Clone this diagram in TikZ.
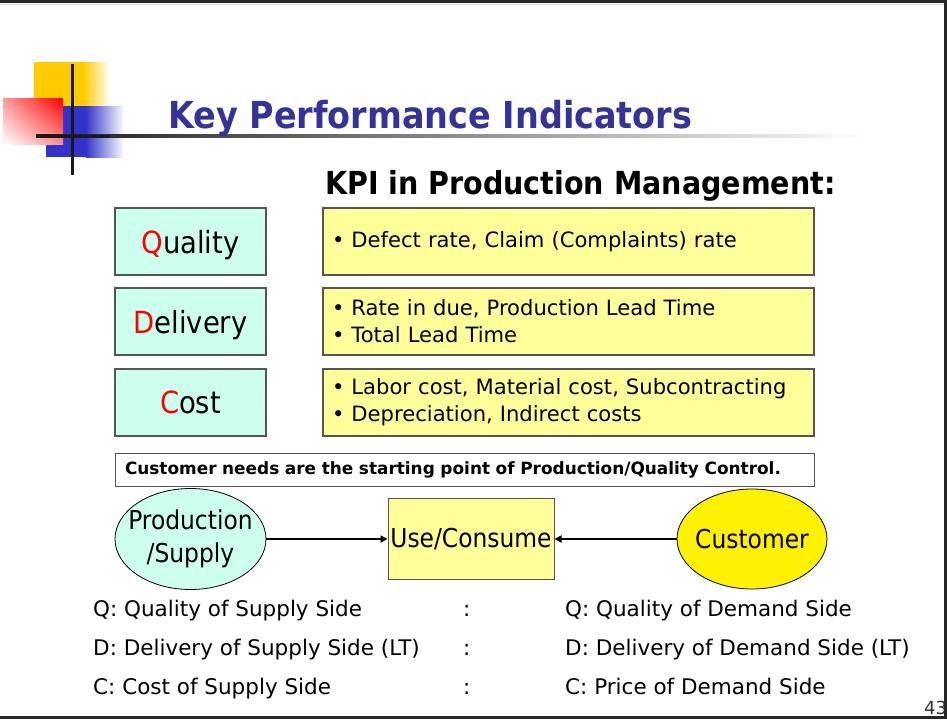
\documentclass[tikz,border=0pt]{standalone}
\usepackage{fontspec}
\setmainfont{DejaVu Sans}
\newfontfamily\cond{DejaVu Sans Condensed}[BoldFont={DejaVu Sans Condensed Bold}]
\usetikzlibrary{shapes.geometric,arrows.meta,shadings}
\definecolor{titleblue}{HTML}{333399}
\definecolor{mint}{HTML}{CCFFEE}
\definecolor{paleyellow}{HTML}{FFFF99}
\definecolor{boxborder}{HTML}{555555}
\definecolor{logoyellow}{HTML}{FFCC00}
\definecolor{logoblue}{HTML}{3333CC}
\definecolor{qred}{HTML}{FF0000}
\begin{document}
\begin{tikzpicture}[x=1pt,y=-1pt,
  kpibox/.style={draw=boxborder, line width=1.2pt, fill=mint, minimum width=151pt, minimum height=67pt, inner sep=0pt, text depth=0pt, font=\cond\fontsize{30.5}{36}\selectfont},
  itembox/.style={draw=boxborder, line width=1.2pt, fill=paleyellow, minimum width=491pt, minimum height=67pt, text width=473pt, align=left, inner xsep=9pt, inner ysep=0pt, font=\fontsize{21.1}{27}\selectfont},
  bubble/.style={ellipse, draw=black, line width=0.8pt, inner sep=0pt, minimum width=151pt, minimum height=101pt},
  bigtext/.style={inner sep=0pt, align=center, font=\cond\fontsize{26}{33}\selectfont},
  rowtext/.style={anchor=base west, inner sep=0pt, font=\fontsize{21.5}{25}\selectfont},
  flow/.style={line width=1.8pt, -{Triangle[length=7pt,width=7pt]}}
]
\useasboundingbox (0,0) rectangle (947,720);
% frame
\draw[black!15, line width=1pt] (0,4.5) -- (944,4.5);
\draw[black!85, line width=2.6pt] (0,1.5) -- (945.7,1.5) -- (945.7,717.5) -- (0,717.5);
% logo
\fill[logoyellow] (34,62) rectangle (84,107);
\shade[left color=logoyellow, right color=white] (83.5,62) rectangle (110,107);
\fill[logoblue] (46,106) rectangle (86,157);
\shade[left color=logoblue, right color=white] (85.5,106) rectangle (124,157);
\shade[upper left=red!40, upper right=red, lower left=white, lower right=red!45] (3,98) rectangle (63,144);
\shade[left color=black!90, right color=white] (36,134.5) rectangle (870,137.5);
\fill[black!90] (36,134.5) rectangle (110,137.5);
\fill[black!90] (70.5,64) rectangle (73.5,175);
% title
\node[anchor=base west, inner sep=0pt, text=titleblue, font=\cond\fontsize{37.2}{42}\selectfont\bfseries] (title) at (168,128) {Key Performance Indicators};
\node[anchor=base west, inner sep=0pt, font=\cond\fontsize{31.7}{38}\selectfont\bfseries] (sub) at (325,194) {KPI in Production Management:};
% KPI boxes
\node[kpibox] (q) at (190.5,241.5) {\textcolor{qred}{Q}uality};
\node[kpibox] (d) at (190.5,321.5) {\textcolor{qred}{D}elivery};
\node[kpibox] (c) at (190.5,402.5) {\textcolor{qred}{C}ost};
\node[itembox] (qi) at (568.5,241.5) {• Defect rate, Claim (Complaints) rate};
\node[itembox] (di) at (568.5,321.5) {• Rate in due, Production Lead Time\\• Total Lead Time};
\node[itembox] (ci) at (568.5,402.5) {• Labor cost, Material cost, Subcontracting\\• Depreciation, Indirect costs};
% customer needs
\node[draw=boxborder, line width=1pt, minimum width=699pt, minimum height=33pt, inner sep=0pt, font=\fontsize{16.9}{20}\selectfont\bfseries, text width=679pt, align=left] (needs) at (464.5,470) {Customer needs are the starting point of Production/Quality Control.};
% flow
\node[bubble, fill=mint] (prod) at (190.5,539) {};
\node[bigtext] (prodtext) at (prod.center) {Production\\/Supply};
\node[draw=boxborder, line width=1pt, fill=paleyellow, minimum width=166pt, minimum height=81pt, inner sep=0pt, font=\cond\fontsize{26}{30}\selectfont] (use) at (471,539) {Use/Consume};
\node[bubble, fill=yellow, minimum width=150pt, minimum height=100pt] (cust) at (752,539) {};
\node[bigtext] (custtext) at (cust.center) {Customer};
\draw[flow] (prod.east) -- (use.west);
\draw[flow] (cust.west) -- (use.east);
% bottom rows
\node[rowtext] (l1) at (93,616) {Q: Quality of Supply Side};
\node[rowtext] (l2) at (93,655) {D: Delivery of Supply Side (LT)};
\node[rowtext] (l3) at (93,694) {C: Cost of Supply Side};
\node[rowtext] (m1) at (463,616) {:};
\node[rowtext] (m2) at (463,655) {:};
\node[rowtext] (m3) at (463,694) {:};
\node[rowtext] (r1) at (565,616) {Q: Quality of Demand Side};
\node[rowtext] (r2) at (565,655) {D: Delivery of Demand Side (LT)};
\node[rowtext] (r3) at (565,694) {C: Price of Demand Side};
% page number
\node[anchor=base west, inner sep=0pt, text=black!80, font=\fontsize{18}{20}\selectfont] (pg) at (924,714) {43};
\draw[black!85, line width=2.6pt] (945.7,690) -- (945.7,717.5);
\end{tikzpicture}
\end{document}
